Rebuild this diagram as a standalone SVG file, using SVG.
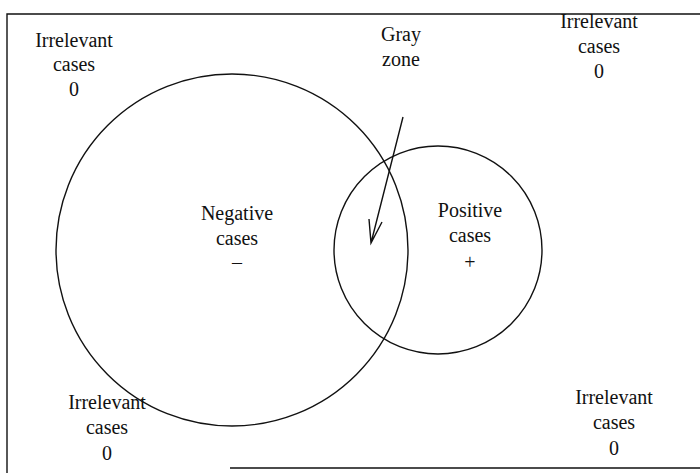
<svg xmlns="http://www.w3.org/2000/svg" width="700" height="473" viewBox="0 0 700 473">
<style>
text{font-family:"Liberation Serif","DejaVu Serif",serif;font-size:20px;fill:#111;text-anchor:middle}
.ln{fill:none;stroke:#111;stroke-width:1.4}
</style>
<rect width="700" height="473" fill="#fff"/>
<g id="frame"><path class="ln" d="M7,473 V14 H700 M230,468 H700"/></g>
<g id="negative"><circle class="ln" cx="232" cy="250" r="176"/>
<text x="237" y="220">Negative</text><text x="237" y="245">cases</text><text x="237" y="269">–</text></g>
<g id="positive"><circle class="ln" cx="438" cy="250" r="104"/>
<text x="470" y="217">Positive</text><text x="470" y="242">cases</text><text x="470" y="269">+</text></g>
<g id="gray"><text x="401" y="41">Gray</text><text x="401" y="66">zone</text></g>
<g id="irr-tl"><text x="74" y="47">Irrelevant</text><text x="74" y="71">cases</text><text x="74" y="96">0</text></g>
<g id="irr-tr"><text x="599" y="28">Irrelevant</text><text x="599" y="53">cases</text><text x="599" y="78">0</text></g>
<g id="irr-bl"><text x="107" y="409">Irrelevant</text><text x="107" y="434">cases</text><text x="107" y="460">0</text></g>
<g id="irr-br"><text x="614" y="404">Irrelevant</text><text x="614" y="429">cases</text><text x="614" y="455">0</text></g>
<g id="connectors"><path class="ln" d="M403,117 L371,243 M369,219 L371,243 L382,222"/></g>
</svg>
